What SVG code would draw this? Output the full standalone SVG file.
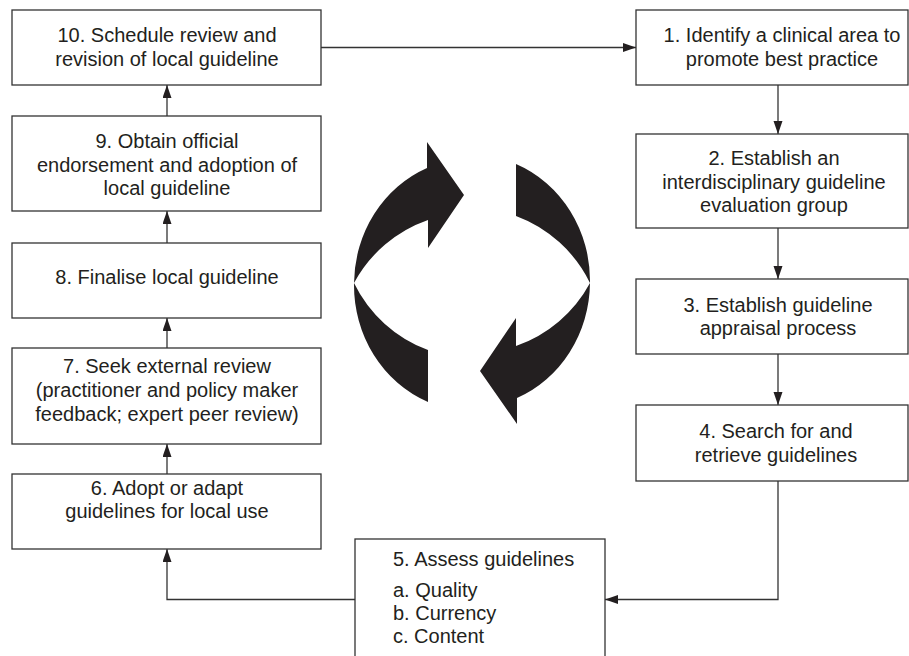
<svg xmlns="http://www.w3.org/2000/svg" width="909" height="656" viewBox="0 0 909 656">
<style>
.box{fill:#fff;stroke:#333;stroke-width:1.3}
.t{font-family:"Liberation Sans",Arial,sans-serif;font-size:20px;fill:#231f20;text-anchor:middle}
.tl{font-family:"Liberation Sans",Arial,sans-serif;font-size:20px;fill:#231f20;text-anchor:start}
.c{fill:none;stroke:#333;stroke-width:1.3}
.cyc{fill:#231f20}
</style>
<defs>
<marker id="ah" markerUnits="userSpaceOnUse" markerWidth="14" markerHeight="10" refX="13" refY="4.5" orient="auto">
<path d="M0,0 L13,4.5 L0,9 z" fill="#231f20"/>
</marker>
<path id="half" d="M428,402 A118,126 0 0 1 354,283 A118,126 0 0 1 427,168 L427,142 L464,195 L428,248 L428,220 A134,134 0 0 0 354,283 A134,134 0 0 0 428,350 Z"/>
</defs>
<rect width="909" height="656" fill="#fff"/>

<g id="cycle-arrows" class="cyc">
<use href="#half"/>
<use href="#half" transform="rotate(180 472 283)"/>
</g>

<g id="connectors">
<path class="c" d="M321,47.5 H636" marker-end="url(#ah)"/>
<path class="c" d="M778,85 V134" marker-end="url(#ah)"/>
<path class="c" d="M778,228 V279" marker-end="url(#ah)"/>
<path class="c" d="M778,354 V405" marker-end="url(#ah)"/>
<path class="c" d="M778,481 V599.5 H605" marker-end="url(#ah)"/>
<path class="c" d="M355,599.5 H167 V549" marker-end="url(#ah)"/>
<path class="c" d="M167,474 V444" marker-end="url(#ah)"/>
<path class="c" d="M167,348 V318" marker-end="url(#ah)"/>
<path class="c" d="M167,243 V211" marker-end="url(#ah)"/>
<path class="c" d="M167,116 V85" marker-end="url(#ah)"/>
</g>

<g id="n10">
<rect class="box" x="12" y="10" width="309" height="75"/>
<text class="t" x="167" y="42">10. Schedule review and</text>
<text class="t" x="167" y="66">revision of local guideline</text>
</g>
<g id="n1">
<rect class="box" x="636" y="10" width="272" height="75"/>
<text class="t" x="782" y="42">1. Identify a clinical area to</text>
<text class="t" x="782" y="66">promote best practice</text>
</g>
<g id="n2">
<rect class="box" x="636" y="134" width="272" height="94"/>
<text class="t" x="774" y="165">2. Establish an</text>
<text class="t" x="774" y="189">interdisciplinary guideline</text>
<text class="t" x="774" y="212">evaluation group</text>
</g>
<g id="n3">
<rect class="box" x="636" y="279" width="272" height="75"/>
<text class="t" x="778" y="312">3. Establish guideline</text>
<text class="t" x="778" y="335">appraisal process</text>
</g>
<g id="n4">
<rect class="box" x="636" y="405" width="272" height="76"/>
<text class="t" x="776" y="438">4. Search for and</text>
<text class="t" x="776" y="462">retrieve guidelines</text>
</g>
<g id="n5">
<rect class="box" x="355" y="539" width="250" height="125"/>
<text class="tl" x="393" y="566">5. Assess guidelines</text>
<text class="tl" x="393" y="597">a. Quality</text>
<text class="tl" x="393" y="620">b. Currency</text>
<text class="tl" x="393" y="643">c. Content</text>
</g>
<g id="n6">
<rect class="box" x="12" y="474" width="309" height="75"/>
<text class="t" x="167" y="495">6. Adopt or adapt</text>
<text class="t" x="167" y="518">guidelines for local use</text>
</g>
<g id="n7">
<rect class="box" x="12" y="348" width="309" height="96"/>
<text class="t" x="167" y="373">7. Seek external review</text>
<text class="t" x="167" y="397">(practitioner and policy maker</text>
<text class="t" x="167" y="421">feedback; expert peer review)</text>
</g>
<g id="n8">
<rect class="box" x="12" y="243" width="309" height="75"/>
<text class="t" x="167" y="284">8. Finalise local guideline</text>
</g>
<g id="n9">
<rect class="box" x="12" y="116" width="309" height="95"/>
<text class="t" x="167" y="148">9. Obtain official</text>
<text class="t" x="167" y="172">endorsement and adoption of</text>
<text class="t" x="167" y="195">local guideline</text>
</g>
</svg>
